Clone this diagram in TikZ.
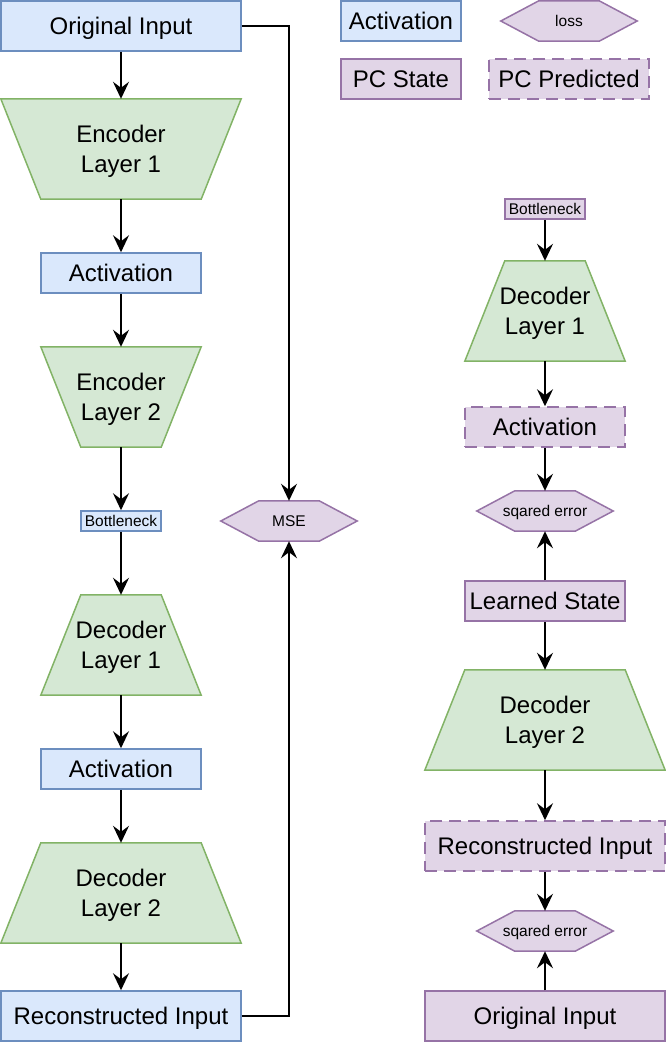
\documentclass[tikz,border=0pt]{standalone}
\usepackage{fontspec}
\setmainfont{Liberation Sans}
\usetikzlibrary{arrows.meta,calc}
\definecolor{bfill}{HTML}{DAE8FC}
\definecolor{bline}{HTML}{6C8EBF}
\definecolor{gfill}{HTML}{D5E8D4}
\definecolor{gline}{HTML}{82B366}
\definecolor{pfill}{HTML}{E1D5E7}
\definecolor{pline}{HTML}{9673A6}
\pgfdeclarelayer{background}
\pgfsetlayers{background,main}
\tikzset{
  bigtwo/.style={font=\fontsize{24}{30}\selectfont, align=center},
  big/.style={font=\fontsize{24}{30}\selectfont, text height=21.7pt, text depth=5.1pt},
  small/.style={font=\fontsize{15.5}{18}\selectfont, text height=14pt, text depth=3.3pt},
  bluebox/.style={draw=bline, fill=bfill, line width=1.5pt, inner sep=0pt},
  purplebox/.style={draw=pline, fill=pfill, line width=1.5pt, inner sep=0pt},
  dashbox/.style={purplebox, dash pattern=on 12pt off 7pt},
  greenshape/.style={draw=gline, fill=gfill, line width=1.5pt, line join=miter},
  hexshape/.style={draw=pline, fill=pfill, line width=1.5pt},
  shapenode/.style={inner sep=0pt},
  arr/.style={line width=2pt, -{Stealth[length=17pt,width=16pt,inset=6pt]}},
}
\newcommand\trapdraw[3]{%
  \begin{pgfonlayer}{background}
  \draw[greenshape] ([xshift=#2]#1.north west) -- ([xshift=-#2]#1.north east)
    -- ([xshift=-#3]#1.south east) -- ([xshift=#3]#1.south west) -- cycle;
  \end{pgfonlayer}}
\newcommand\hexdraw[1]{%
  \begin{pgfonlayer}{background}
  \draw[hexshape] (#1.west) -- ([xshift=38pt]#1.north west) -- ([xshift=-38pt]#1.north east)
    -- (#1.east) -- ([xshift=-38pt]#1.south east) -- ([xshift=38pt]#1.south west) -- cycle;
  \end{pgfonlayer}}
\newcommand\up{\rule{0pt}{21.5pt}}
\begin{document}
\begin{tikzpicture}[x=1pt,y=-1pt]
\useasboundingbox (0,0) rectangle (666,1042);
% ---------- left column ----------
\node[bluebox,big,minimum width=240pt,minimum height=50pt] (in1) at (121,26) {Original Input};
\node[shapenode,bigtwo,minimum width=240pt,minimum height=100pt] (enc1) at (121,149) {\up Encoder\\Layer 1};
\trapdraw{enc1}{0pt}{40pt}
\node[bluebox,big,minimum width=160pt,minimum height=40pt] (act1) at (121,273) {Activation};
\node[shapenode,bigtwo,minimum width=160pt,minimum height=100pt] (enc2) at (121,397) {\up Encoder\\Layer 2};
\trapdraw{enc2}{0pt}{40pt}
\node[bluebox,small,minimum width=80pt,minimum height=20pt] (bn1) at (121,521) {Bottleneck};
\node[shapenode,bigtwo,minimum width=160pt,minimum height=100pt] (dec1) at (121,645) {\up Decoder\\Layer 1};
\trapdraw{dec1}{40pt}{0pt}
\node[bluebox,big,minimum width=160pt,minimum height=40pt] (act2) at (121,769) {Activation};
\node[shapenode,bigtwo,minimum width=240pt,minimum height=100pt] (dec2) at (121,893) {\up Decoder\\Layer 2};
\trapdraw{dec2}{40pt}{0pt}
\node[bluebox,big,minimum width=240pt,minimum height=50pt] (rec1) at (121,1016) {Reconstructed Input};
\node[shapenode,small,minimum width=136pt,minimum height=40pt] (mse) at (289,521) {MSE};
\hexdraw{mse}
% ---------- legend ----------
\node[bluebox,big,minimum width=120pt,minimum height=40pt] (lact) at (401,21) {Activation};
\node[shapenode,small,minimum width=136pt,minimum height=40pt] (lloss) at (569,21) {loss};
\hexdraw{lloss}
\node[purplebox,big,minimum width=120pt,minimum height=40pt] (lpcs) at (401,79) {PC State};
\node[dashbox,big,minimum width=160pt,minimum height=40pt] (lpcp) at (569,79) {PC Predicted};
% ---------- right column ----------
\node[purplebox,small,minimum width=80pt,minimum height=20pt] (bn2) at (545,209) {Bottleneck};
\node[shapenode,bigtwo,minimum width=160pt,minimum height=100pt] (rdec1) at (545,311) {\up Decoder\\Layer 1};
\trapdraw{rdec1}{40pt}{0pt}
\node[dashbox,big,minimum width=160pt,minimum height=40pt] (ract) at (545,427) {Activation};
\node[shapenode,small,minimum width=136pt,minimum height=40pt] (sq1) at (545,511) {sqared error};
\hexdraw{sq1}
\node[purplebox,big,minimum width=160pt,minimum height=40pt] (ls) at (545,601) {Learned State};
\node[shapenode,bigtwo,minimum width=240pt,minimum height=100pt] (rdec2) at (545,720) {\up Decoder\\Layer 2};
\trapdraw{rdec2}{40pt}{0pt}
\node[dashbox,big,minimum width=240pt,minimum height=50pt] (rrec) at (545,846) {Reconstructed Input};
\node[shapenode,small,minimum width=136pt,minimum height=40pt] (sq2) at (545,931) {sqared error};
\hexdraw{sq2}
\node[purplebox,big,minimum width=240pt,minimum height=50pt] (rorig) at (545,1016) {Original Input};
% ---------- connectors ----------
\draw[arr] (in1) -- (enc1);
\draw[arr] (enc1) -- (act1);
\draw[arr] (act1) -- (enc2);
\draw[arr] (enc2) -- (bn1);
\draw[arr] (bn1) -- (dec1);
\draw[arr] (dec1) -- (act2);
\draw[arr] (act2) -- (dec2);
\draw[arr] (dec2) -- (rec1);
\draw[arr] (in1.east) -| (mse.north);
\draw[arr] (rec1.east) -| (mse.south);
\draw[arr] (bn2) -- (rdec1);
\draw[arr] (rdec1) -- (ract);
\draw[arr] (ract) -- (sq1);
\draw[arr] (ls) -- (sq1);
\draw[arr] (ls) -- (rdec2);
\draw[arr] (rdec2) -- (rrec);
\draw[arr] (rrec) -- (sq2);
\draw[arr] (rorig) -- (sq2);
\end{tikzpicture}
\end{document}
